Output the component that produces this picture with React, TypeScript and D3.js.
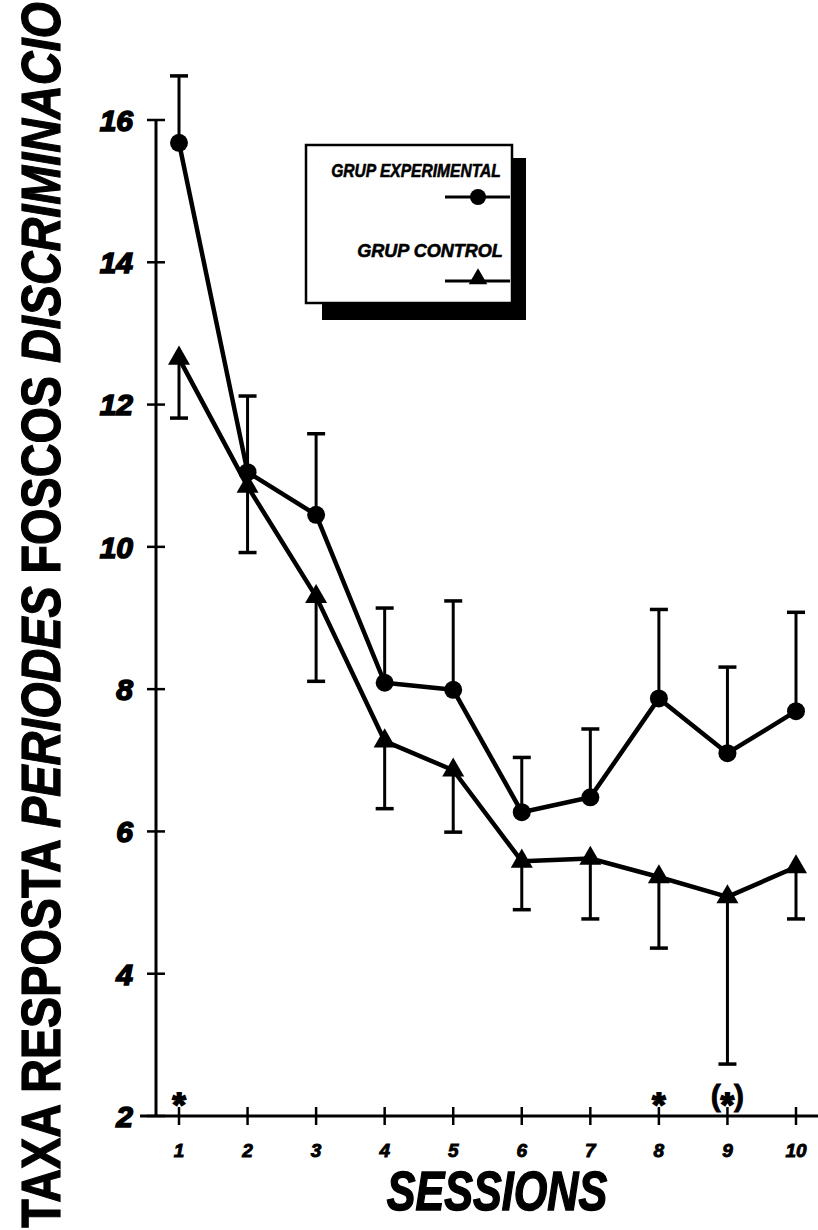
import React from 'react';
import * as d3 from 'd3';

// Sessions on the x axis
const sessions = [1, 2, 3, 4, 5, 6, 7, 8, 9, 10];

// Experimental group: mean and upper end of the error bar
const experimentalMean = [15.68, 11.05, 10.45, 8.09, 7.99, 6.27, 6.48, 7.87, 7.1, 7.69];
const experimentalUpper = [16.62, 12.12, 11.59, 9.14, 9.24, 7.04, 7.44, 9.12, 8.31, 9.08];

// Control group: mean and lower end of the error bar
const controlMean = [12.65, 10.85, 9.3, 7.27, 6.86, 5.58, 5.62, 5.36, 5.08, 5.5];
const controlLower = [11.81, 9.92, 8.11, 6.32, 5.99, 4.9, 4.77, 4.36, 2.73, 4.77];

// Axis ticks
const yTicks = [2, 4, 6, 8, 10, 12, 14, 16];
const xTickLabels = ['1', '2', '3', '4', '5', '6', '7', '8', '9', '10'];

// Significance marks under the sessions (bracketed = marginal)
const markSessions = [1, 8, 9];
const markBracketed = [false, false, true];

const legendLabels = ['GRUP EXPERIMENTAL', 'GRUP CONTROL'];
const yTitleParts = ['TAXA RESPOSTA ', 'PERIODES ', 'FOSCOS ', 'DISCRIMINACIO'];
const yTitleItalic = [false, true, false, true];
const xTitle = 'SESSIONS';

const W = 818;
const H = 1230;
const FONT = "'Liberation Sans', Arial, Helvetica, sans-serif";

export default function App() {
  const x = d3.scaleLinear().domain([1, 10]).range([179, 796]);
  const y = d3.scaleLinear().domain([2, 16]).range([1116, 120]);
  const axisX = 156;
  const axisY = y(2);

  const line = d3
    .line<number>()
    .x((_, i) => x(sessions[i]))
    .y((d) => y(d));

  const tri = d3.symbol().type(d3.symbolTriangle).size(210)();
  const triLegend = d3.symbol().type(d3.symbolTriangle).size(150)();

  const cap = 9;

  return (
    <svg
      width={W}
      height={H}
      viewBox={`0 0 ${W} ${H}`}
      style={{ position: 'absolute', left: 0, top: 0, background: '#fff' }}
      fontFamily={FONT}
    >
      <rect x={0} y={0} width={W} height={H} fill="#fff" />

      {/* y axis */}
      <line x1={axisX} x2={axisX} y1={y(16)} y2={axisY} stroke="#000" strokeWidth={3} />
      {yTicks.map((t) => (
        <g key={`yt${t}`}>
          <line x1={axisX - 9} x2={axisX + 9} y1={y(t)} y2={y(t)} stroke="#000" strokeWidth={2.5} />
          <text
            x={133}
            y={y(t)}
            dy="0.36em"
            textAnchor="end"
            fontSize={30}
            fontWeight="bold"
            fontStyle="italic"
            stroke="#000"
            strokeWidth={1.6}
          >
            {t}
          </text>
        </g>
      ))}

      {/* x axis */}
      <line x1={axisX - 16} x2={W} y1={axisY} y2={axisY} stroke="#000" strokeWidth={3} />
      {sessions.map((s, i) => (
        <g key={`xt${s}`}>
          <line x1={x(s)} x2={x(s)} y1={axisY - 9} y2={axisY + 9} stroke="#000" strokeWidth={2.5} />
          <text
            x={x(s)}
            y={1157}
            textAnchor="middle"
            fontSize={19}
            fontWeight="bold"
            fontStyle="italic"
            stroke="#000"
            strokeWidth={0.9}
          >
            {xTickLabels[i]}
          </text>
        </g>
      ))}

      {/* significance marks */}
      {markSessions.map((s, i) =>
        markBracketed[i] ? (
          <text
            key={`m${s}`}
            x={x(s)}
            y={1106}
            textAnchor="middle"
            fontSize={30}
            fontWeight="bold"
            stroke="#000"
            strokeWidth={0.8}
          >
            (<tspan dy={10} fontSize={34} strokeWidth={1.8}>*</tspan>
            <tspan dy={-10}>)</tspan>
          </text>
        ) : (
          <text
            key={`m${s}`}
            x={x(s)}
            y={1116}
            textAnchor="middle"
            fontSize={34}
            fontWeight="bold"
            stroke="#000"
            strokeWidth={1.8}
          >
            *
          </text>
        )
      )}

      {/* error bars */}
      {sessions.map((s, i) => (
        <g key={`eb${s}`} stroke="#000">
          <line x1={x(s)} x2={x(s)} y1={y(experimentalMean[i])} y2={y(experimentalUpper[i])} strokeWidth={3} />
          <line x1={x(s) - cap} x2={x(s) + cap} y1={y(experimentalUpper[i])} y2={y(experimentalUpper[i])} strokeWidth={3.5} />
          <line x1={x(s)} x2={x(s)} y1={y(controlMean[i])} y2={y(controlLower[i])} strokeWidth={3} />
          <line x1={x(s) - cap} x2={x(s) + cap} y1={y(controlLower[i])} y2={y(controlLower[i])} strokeWidth={3.5} />
        </g>
      ))}

      {/* series lines */}
      <path d={line(experimentalMean) ?? ''} fill="none" stroke="#000" strokeWidth={4.5} strokeLinejoin="round" />
      <path d={line(controlMean) ?? ''} fill="none" stroke="#000" strokeWidth={4.5} strokeLinejoin="round" />

      {/* markers */}
      {sessions.map((s, i) => (
        <g key={`mk${s}`}>
          <circle cx={x(s)} cy={y(experimentalMean[i])} r={9} fill="#000" />
          <path d={tri ?? ''} transform={`translate(${x(s)},${y(controlMean[i])})`} fill="#000" />
        </g>
      ))}

      {/* legend */}
      <g>
        <rect x={322} y={158} width={204} height={162} fill="#000" />
        <rect x={306} y={145} width={206} height={158} fill="#fff" stroke="#000" strokeWidth={2.5} />
        <text
          transform="translate(416,177) scale(0.82,1)"
          textAnchor="middle"
          fontSize={19}
          fontWeight="bold"
          fontStyle="italic"
          stroke="#000"
          strokeWidth={0.6}
        >
          {legendLabels[0]}
        </text>
        <line x1={445} x2={510} y1={197} y2={197} stroke="#000" strokeWidth={3} />
        <circle cx={478} cy={197} r={8} fill="#000" />
        <text
          transform="translate(430,257) scale(0.95,1)"
          textAnchor="middle"
          fontSize={19}
          fontWeight="bold"
          fontStyle="italic"
          stroke="#000"
          strokeWidth={0.6}
        >
          {legendLabels[1]}
        </text>
        <line x1={445} x2={510} y1={281} y2={281} stroke="#000" strokeWidth={3} />
        <path d={triLegend ?? ''} transform="translate(478,279)" fill="#000" />
      </g>

      {/* axis titles */}
      <text
        transform="translate(60,615) rotate(-90) scale(0.85,1)"
        textAnchor="middle"
        fontSize={55}
        fontWeight="bold"
        stroke="#000"
        strokeWidth={1.2}
      >
        {yTitleParts.map((p, i) => (
          <tspan key={p} fontStyle={yTitleItalic[i] ? 'italic' : 'normal'}>
            {p}
          </tspan>
        ))}
      </text>
      <text
        transform="translate(497,1210) scale(0.77,1)"
        textAnchor="middle"
        fontSize={56}
        fontWeight="bold"
        fontStyle="italic"
        stroke="#000"
        strokeWidth={1.5}
      >
        {xTitle}
      </text>
    </svg>
  );
}
